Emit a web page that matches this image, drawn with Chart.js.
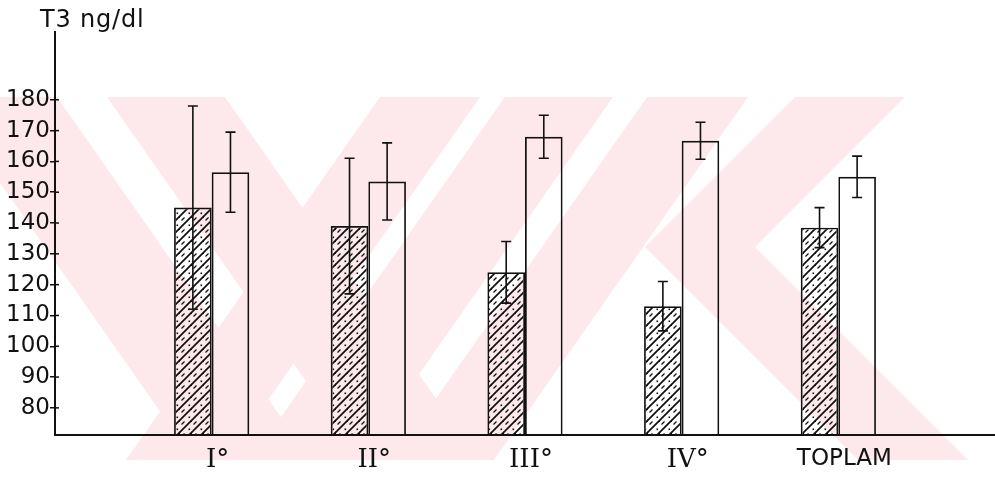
<!DOCTYPE html>
<html>
<head>
<meta charset="utf-8">
<script src="https://cdn.jsdelivr.net/npm/chart.js@4.4.1/dist/chart.umd.min.js"></script>
<style>
  html, body { margin: 0; padding: 0; background: #fff; }
  #wrap { position: relative; width: 995px; height: 477px; }
  #mark { position: absolute; left: 0; top: 0; }
  #chart { position: absolute; left: 0; top: 0; }
  #ytitle { position: absolute; left: 40px; top: 5px; font: 24px "DejaVu Sans", sans-serif; color: #111; letter-spacing: 0.8px; }
</style>
</head>
<body>
<div id="wrap">
  <svg id="mark" width="995" height="477">
    <defs><clipPath id="clip"><rect x="0" y="97" width="995" height="363"/></clipPath></defs>
    <g clip-path="url(#clip)" fill="#fde8ec">
      <polygon points="-60,97 57,97 311,460 194,460"/>
      <polygon points="107,97 225,97 479,460 361,460"/>
      <polygon points="380,97 480,97 226,460 126,460"/>
      <polygon points="505,97 613,97 359,460 251,460"/>
      <polygon points="647,97 748,97 494,460 393,460"/>
      <polygon points="795,97 905,97 755,247 968,460 858,460 645,247"/>
    </g>
  </svg>
  <canvas id="chart" width="995" height="477"></canvas>
  <div id="ytitle">T3 ng/dl</div>
</div>
<script>
// groups on the x axis
const categories = ['I°', 'II°', 'III°', 'IV°', 'TOPLAM'];
// hatched bars (mean and spread)
const hatchedMeans = [145, 139, 124, 113, 138.5];
const hatchedErrors = [33, 22, 10, 8, 6.5];
// open bars (mean and spread)
const openMeans = [156.5, 153.5, 168, 166.7, 155];
const openErrors = [13, 12.5, 7, 6, 6.7];
// y tick labels
const yTicks = [80, 90, 100, 110, 120, 130, 140, 150, 160, 170, 180];

// empty slot at each end so the groups sit between them
const labels = [''].concat(categories, ['']);
const pad = arr => [null].concat(arr, [null]);

function makeHatch() {
    const c = document.createElement('canvas');
    c.width = 12; c.height = 12;
    const g = c.getContext('2d');
    g.strokeStyle = '#111';
    g.lineWidth = 1.8;
    [0, 12, 24].forEach(o => {
        g.beginPath();
        g.moveTo(-2, o + 2); g.lineTo(o + 2, -2);
        g.stroke();
    });
    // dash-dot line between the solid ones
    g.lineWidth = 1.3;
    g.beginPath();
    g.moveTo(1.5, 4.5); g.lineTo(4.5, 1.5);
    g.stroke();
    g.fillStyle = '#111';
    g.fillRect(8.5, 8.5, 1.6, 1.6);
    return g.createPattern(c, 'repeat');
}

const errorBars = {
    id: 'errorBars',
    afterDatasetsDraw(chart) {
        const ctx = chart.ctx;
        const y = chart.scales.y;
        const sets = [[hatchedMeans, hatchedErrors], [openMeans, openErrors]];
        ctx.save();
        ctx.strokeStyle = '#111';
        ctx.lineWidth = 1.6;
        sets.forEach((s, di) => {
            const meta = chart.getDatasetMeta(di);
            s[0].forEach((m, i) => {
                const bar = meta.data[i + 1];
                const top = y.getPixelForValue(m + s[1][i]);
                const bot = y.getPixelForValue(m - s[1][i]);
                ctx.beginPath();
                ctx.moveTo(bar.x, top); ctx.lineTo(bar.x, bot);
                ctx.moveTo(bar.x - 5, top); ctx.lineTo(bar.x + 5, top);
                ctx.moveTo(bar.x - 5, bot); ctx.lineTo(bar.x + 5, bot);
                ctx.stroke();
            });
        });
        // inner half of the y ticks
        const left = chart.chartArea.left;
        ctx.lineWidth = 1.5;
        yTicks.forEach(v => {
            const py = y.getPixelForValue(v);
            ctx.beginPath();
            ctx.moveTo(left, py); ctx.lineTo(left + 4, py);
            ctx.stroke();
        });
        ctx.restore();
    }
};

new Chart(document.getElementById('chart'), {
    type: 'bar',
    data: {
        labels: labels,
        datasets: [{
            data: pad(hatchedMeans),
            backgroundColor: makeHatch(),
            borderColor: '#111',
            borderWidth: 1.7
        }, {
            data: pad(openMeans),
            backgroundColor: 'rgba(0,0,0,0)',
            borderColor: '#111',
            borderWidth: 1.7
        }]
    },
    options: {
        responsive: false,
        animation: false,
        layout: { padding: { left: 4, right: 0, top: 32, bottom: 1 } },
        plugins: { legend: { display: false }, tooltip: { enabled: false } },
        datasets: { bar: { categoryPercentage: 0.48, barPercentage: 1.0 } },
        scales: {
            x: {
                offset: false,
                grid: { display: false },
                border: { color: '#111', width: 2 },
                ticks: {
                    color: '#111',
                    padding: 2,
                    labelOffset: 6,
                    maxRotation: 0,
                    autoSkip: false,
                    font: c => c.index === 5
                        ? { family: 'DejaVu Sans', size: 23 }
                        : { family: 'DejaVu Serif', size: 26 }
                },
                afterFit: s => { s.height = 41; s.paddingLeft = 0; s.paddingRight = 0; }
            },
            y: {
                min: 71.2,
                max: 202,
                afterBuildTicks: s => { s.ticks = yTicks.map(v => ({ value: v })); },
                grid: { drawOnChartArea: false, tickLength: 5, color: '#111', lineWidth: 1.5 },
                border: { color: '#111', width: 2 },
                ticks: {
                    color: '#111',
                    padding: 0,
                    font: { family: 'DejaVu Sans', size: 23 }
                },
                afterFit: s => { s.width = 51; }
            }
        }
    },
    plugins: [errorBars]
});
</script>
</body>
</html>
